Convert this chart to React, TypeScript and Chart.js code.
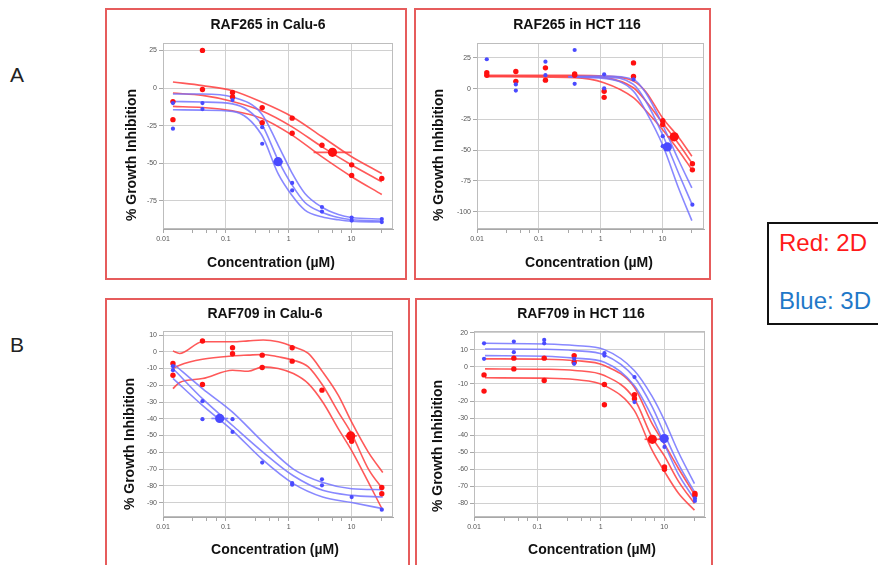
import React, { useEffect, useRef } from 'react';
import { Chart, registerables } from 'chart.js';
Chart.register(...registerables);

// ---------------- data ----------------
const DOSES = [0.0144, 0.0425, 0.128, 0.38, 1.14, 3.4, 10.1, 30.5];
const X_MAJOR = [0.01, 0.1, 1, 10];
const X_MINOR = [0.03, 0.05, 0.07, 0.3, 0.5, 0.7, 3, 5, 7, 30];

// A1: RAF265 in Calu-6
const A1_RED_REP1 = [-9, 25, -3, -13, -20, -38, -51, -60];
const A1_RED_REP2 = [-21, -1, -6, -23, -30, null, -58, null];
const A1_BLUE_REP1 = [-27, -10, -8, -26, -63, -79, -86, -87];
const A1_BLUE_REP2 = [-10, -14, null, -37, -68, -82, -88, -89];
const A1_RED_FIT_X = [0.0144, 0.0425, 0.128, 0.371, 1.12, 3.37, 10.1, 30.5];
const A1_RED_FIT_HI = [4, 1.6, -1.8, -9.3, -18.9, -32.2, -45.6, -56.7];
const A1_RED_FIT_MID = [-3.3, -4.9, -8.9, -15.1, -25.6, -38.9, -51.1, -62.2];
const A1_RED_FIT_LO = [-12.2, -12.9, -15.1, -20, -31.1, -45.6, -58.9, -70.7];
const A1_BLUE_FIT_X = [0.0144, 0.0425, 0.128, 0.371, 0.684, 1.12, 1.82, 3.37, 6.2, 10.1, 30.5];
const A1_BLUE_FIT_HI = [-4, -4, -6, -17, -38, -56, -70, -79, -84, -86, -87];
const A1_BLUE_FIT_MID = [-8.9, -9.3, -10.5, -24, -48, -64, -76, -82.5, -86, -87.5, -88.3];
const A1_BLUE_FIT_LO = [-14.4, -14.7, -15.5, -31, -57, -71, -81, -85.5, -87.5, -88.5, -89];
const A1_RED_IC50 = [5.0, -42.7];
const A1_RED_IC50_CI = [2.5, 10.1];
const A1_BLUE_IC50 = [0.68, -48.9];
const A1_BLUE_IC50_CI = [0.57, 0.82];
const A1_Y_TICKS = [25, 0, -25, -50, -75];

// A2: RAF265 in HCT 116
const A2_RED_REP1 = [13, 14, 17, 12, -2, 21, -26, -61];
const A2_RED_REP2 = [11, 6, 7, 11, -7, 10, -29, -66];
const A2_BLUE_REP1 = [24, 3.5, 22, 31.5, 11.7, 7.6, -38.6, -94.3];
const A2_BLUE_REP2 = [null, -1.5, 11, 4, 0.3, null, -46.7, null];
const A2_RED_FIT_X = [0.0144, 0.371, 1.13, 3.39, 5.37, 10, 18.6, 29.9];
const A2_RED_FIT_HI = [10.9, 10.9, 10.3, 6.2, -2.4, -23.6, -40, -54.9];
const A2_RED_FIT_MID = [10.3, 10.1, 9, 0.8, -10, -27.7, -45.4, -60.3];
const A2_RED_FIT_LO = [9.8, 9, 4.9, -7.3, -17.7, -33.1, -50.8, -65.8];
const A2_BLUE_FIT_X = [0.3, 1.13, 3.39, 5.37, 10, 18.6, 29.9];
const A2_BLUE_FIT_HI = [10, 10.3, 7.6, -3.3, -29.1, -59, -80.7];
const A2_BLUE_FIT_MID = [9.8, 9.5, 3.5, -10, -37.2, -69.8, -93.7];
const A2_BLUE_FIT_LO = [9.5, 8.4, -1.9, -18.2, -45.4, -82, -107.3];
const A2_RED_IC50 = [15.5, -39.1];
const A2_RED_IC50_CI = [12, 18.6];
const A2_BLUE_IC50 = [12, -47.3];
const A2_BLUE_IC50_CI = [11.1, 13];
const A2_Y_TICKS = [25, 0, -25, -50, -75, -100];

// B1: RAF709 in Calu-6
const B1_RED_REP1 = [-7, 6.4, 2.4, -2, 2.4, -22.9, -49.8, -81];
const B1_RED_REP2 = [-14, -19.5, -1.2, -9.4, -5.6, null, -53.4, -84.7];
const B1_BLUE_REP1 = [-8.6, -29.5, -40.2, -66.1, -78.3, -76.1, -86.7, -94.2];
const B1_BLUE_REP2 = [-11, -40.2, -47.8, null, -79.3, -79.7, null, null];
const B1_RED_FIT_X = [0.0144, 0.0184, 0.0425, 0.128, 0.227, 0.394, 0.684, 1.19, 2.06, 3.49, 6.2, 10.1, 18.7, 31.6];
const B1_RED_FIT_HI = [0.4, -1, 6, 6, 6.5, 7, 6, 3, -1, -12, -26, -42, -60, -72];
const B1_RED_FIT_MID = [-10, -8, -4.5, -2.5, -2, -1.6, -3, -5, -9, -20, -36, -49, -70, -82];
const B1_RED_FIT_LO = [-22, -18.3, -16, -11, -11.6, -9, -10, -13, -19, -30, -46, -59, -78, -94.6];
const B1_BLUE_FIT_X = [0.0144, 0.0425, 0.128, 0.394, 1.19, 3.49, 10.1, 31.6];
const B1_BLUE_FIT_HI = [-7, -22, -36, -54, -70, -78, -81.7, -82.3];
const B1_BLUE_FIT_MID = [-10, -28, -44, -60, -74, -82.7, -85.7, -86.7];
const B1_BLUE_FIT_LO = [-15.9, -32, -47, -64.7, -78.7, -86.7, -90, -93.6];
const B1_RED_IC50 = [9.75, -50.2];
const B1_RED_IC50_CI = [7.9, 12.2];
const B1_BLUE_IC50 = [0.08, -39.8];
const B1_BLUE_IC50_CI = [0.059, 0.109];
const B1_Y_TICKS = [10, 0, -10, -20, -30, -40, -50, -60, -70, -80, -90];

// B2: RAF709 in HCT 116
const B2_RED_REP1 = [-4.7, 5.1, 5.1, 6.6, -10.3, -16.3, -58.6, -74.1];
const B2_RED_REP2 = [-14.2, -1.2, -8, 2.7, -22.2, -18.7, -59.9, -75.1];
const B2_BLUE_REP1 = [13.8, 14.8, 15.8, 4.7, 8, -6, -42, -77];
const B2_BLUE_REP2 = [4.7, 8.6, 13.8, 1.8, 6.6, -20.6, -46.9, -78.5];
const B2_FIT_X = [0.0149, 0.134, 0.388, 1.14, 3.37, 6.38, 10, 16.8, 30];
const B2_BLUE_FIT_HI = [13.8, 13.4, 12.5, 10.1, -2.1, -17, -31, -50, -68.3];
const B2_BLUE_FIT_MID = [10.5, 10.3, 9.5, 7, -6, -23, -39, -57, -73.2];
const B2_BLUE_FIT_LO = [6.6, 6.2, 5.1, 2.7, -10.9, -29, -45, -63, -77.4];
const B2_RED_FIT_HI = [4.7, 4.5, 3.7, 0.8, -11.9, -33, -45, -59.5, -74.7];
const B2_RED_FIT_MID = [-1.2, -1.4, -2.1, -5.1, -18.7, -41, -52, -67, -80];
const B2_RED_FIT_LO = [-6.4, -6.6, -7.4, -10.9, -25.5, -48.5, -61, -74, -83.9];
const B2_RED_IC50 = [6.5, -42.4];
const B2_RED_IC50_CI = [4.9, 8.65];
const B2_BLUE_IC50 = [10, -42];
const B2_BLUE_IC50_CI = [8.2, 11.6];
const B2_Y_TICKS = [20, 10, 0, -10, -20, -30, -40, -50, -60, -70, -80];

// ---------------- styling / layout ----------------
const FONT = '"Liberation Sans", Arial, Helvetica, sans-serif';
const RED_PT = '#ff1010';
const BLUE_PT = '#4a4aff';
const RED_LINE = 'rgba(255,60,60,0.85)';
const BLUE_LINE = 'rgba(115,115,255,0.85)';
const BOX_RED = '#e65c5c';

const PANELS = [
  {
    title: 'RAF265 in Calu-6',
    box: [105, 8, 407, 280], plot: [163, 43, 393, 229],
    titlePos: [268, 25], yTitlePos: [132, 155], xTitlePos: [271, 263],
    xMax: 46, yMin: -93.6, yMax: 29.9, yTicks: A1_Y_TICKS,
    red: [A1_RED_REP1, A1_RED_REP2], blue: [A1_BLUE_REP1, A1_BLUE_REP2],
    redFitX: A1_RED_FIT_X, redFits: [A1_RED_FIT_HI, A1_RED_FIT_MID, A1_RED_FIT_LO],
    blueFitX: A1_BLUE_FIT_X, blueFits: [A1_BLUE_FIT_HI, A1_BLUE_FIT_MID, A1_BLUE_FIT_LO],
    redIC50: A1_RED_IC50, redCI: A1_RED_IC50_CI, blueIC50: A1_BLUE_IC50, blueCI: A1_BLUE_IC50_CI,
  },
  {
    title: 'RAF265 in HCT 116',
    box: [414, 8, 711, 280], plot: [477, 43, 704, 229],
    titlePos: [577, 25], yTitlePos: [439, 155], xTitlePos: [589, 263],
    xMax: 47, yMin: -114.1, yMax: 37.2, yTicks: A2_Y_TICKS,
    red: [A2_RED_REP1, A2_RED_REP2], blue: [A2_BLUE_REP1, A2_BLUE_REP2],
    redFitX: A2_RED_FIT_X, redFits: [A2_RED_FIT_HI, A2_RED_FIT_MID, A2_RED_FIT_LO],
    blueFitX: A2_BLUE_FIT_X, blueFits: [A2_BLUE_FIT_HI, A2_BLUE_FIT_MID, A2_BLUE_FIT_LO],
    redIC50: A2_RED_IC50, redCI: A2_RED_IC50_CI, blueIC50: A2_BLUE_IC50, blueCI: A2_BLUE_IC50_CI,
  },
  {
    title: 'RAF709 in Calu-6',
    box: [105, 298, 410, 580], plot: [163, 331, 393, 517],
    titlePos: [265, 314], yTitlePos: [130, 444], xTitlePos: [275, 550],
    xMax: 46, yMin: -98.6, yMax: 12.4, yTicks: B1_Y_TICKS,
    red: [B1_RED_REP1, B1_RED_REP2], blue: [B1_BLUE_REP1, B1_BLUE_REP2],
    redFitX: B1_RED_FIT_X, redFits: [B1_RED_FIT_HI, B1_RED_FIT_MID, B1_RED_FIT_LO],
    blueFitX: B1_BLUE_FIT_X, blueFits: [B1_BLUE_FIT_HI, B1_BLUE_FIT_MID, B1_BLUE_FIT_LO],
    redIC50: B1_RED_IC50, redCI: B1_RED_IC50_CI, blueIC50: B1_BLUE_IC50, blueCI: B1_BLUE_IC50_CI,
  },
  {
    title: 'RAF709 in HCT 116',
    box: [415, 298, 713, 580], plot: [474, 331, 705, 517],
    titlePos: [581, 314], yTitlePos: [438, 446], xTitlePos: [592, 550],
    xMax: 44, yMin: -87.9, yMax: 21, yTicks: B2_Y_TICKS,
    red: [B2_RED_REP1, B2_RED_REP2], blue: [B2_BLUE_REP1, B2_BLUE_REP2],
    redFitX: B2_FIT_X, redFits: [B2_RED_FIT_HI, B2_RED_FIT_MID, B2_RED_FIT_LO],
    blueFitX: B2_FIT_X, blueFits: [B2_BLUE_FIT_HI, B2_BLUE_FIT_MID, B2_BLUE_FIT_LO],
    redIC50: B2_RED_IC50, redCI: B2_RED_IC50_CI, blueIC50: B2_BLUE_IC50, blueCI: B2_BLUE_IC50_CI,
  },
];

const isMajor = (v: number) => X_MAJOR.some((m) => Math.abs(m - v) < m * 1e-6);

const decorPlugin = {
  id: 'panelDecor',
  beforeDatasetsDraw(chart: any) {
    const { ctx, chartArea: a } = chart;
    ctx.save();
    ctx.strokeStyle = '#bdbdbd';
    ctx.lineWidth = 1;
    ctx.strokeRect(Math.round(a.left) + 0.5, Math.round(a.top) + 0.5, Math.round(a.right - a.left) - 1, Math.round(a.bottom - a.top) - 1);
    ctx.restore();
  },
  afterDraw(chart: any, _a: any, opts: any) {
    const ctx = chart.ctx;
    ctx.save();
    ctx.fillStyle = '#111';
    ctx.font = 'bold 14px ' + FONT;
    ctx.textAlign = 'center';
    ctx.textBaseline = 'middle';
    ctx.fillText(opts.title, opts.titleX, opts.titleY);
    ctx.fillText('Concentration (\u00b5M)', opts.xTitleX, opts.xTitleY);
    ctx.translate(opts.yTitleX, opts.yTitleY);
    ctx.rotate(-Math.PI / 2);
    ctx.fillText('% Growth Inhibition', 0, 0);
    ctx.restore();
  },
};

function repPoints(reps: (number | null)[][]) {
  const out: { x: number; y: number }[] = [];
  reps.forEach((rep) => rep.forEach((y, i) => { if (y !== null) out.push({ x: DOSES[i], y }); }));
  return out;
}

function buildConfig(p: any) {
  const [bl, bt, br, bb] = p.box;
  const [pl, pt, pr, pb] = p.plot;
  const curve = (xs: number[], ys: number[], color: string) => ({
    data: xs.map((x, i) => ({ x, y: ys[i] })),
    showLine: true, pointRadius: 0, borderColor: color, borderWidth: 1.6,
    cubicInterpolationMode: 'monotone', fill: false, order: 3,
  });
  const datasets: any[] = [
    { data: repPoints(p.red), backgroundColor: RED_PT, borderColor: RED_PT, pointRadius: 2.7, pointBorderWidth: 0, order: 1 },
    { data: repPoints(p.blue), backgroundColor: BLUE_PT, borderColor: BLUE_PT, pointRadius: 2.1, pointBorderWidth: 0, order: 0 },
    { data: [{ x: p.redIC50[0], y: p.redIC50[1] }], backgroundColor: RED_PT, borderColor: RED_PT, pointRadius: 4.6, pointBorderWidth: 0, order: 1 },
    { data: [{ x: p.blueIC50[0], y: p.blueIC50[1] }], backgroundColor: BLUE_PT, borderColor: BLUE_PT, pointRadius: 4.6, pointBorderWidth: 0, order: 0 },
    { data: [{ x: p.redCI[0], y: p.redIC50[1] }, { x: p.redCI[1], y: p.redIC50[1] }], showLine: true, pointRadius: 0, borderColor: RED_LINE, borderWidth: 1.6, order: 2 },
    { data: [{ x: p.blueCI[0], y: p.blueIC50[1] }, { x: p.blueCI[1], y: p.blueIC50[1] }], showLine: true, pointRadius: 0, borderColor: BLUE_LINE, borderWidth: 1.6, order: 2 },
    ...p.blueFits.map((f: number[]) => curve(p.blueFitX, f, BLUE_LINE)),
    ...p.redFits.map((f: number[]) => curve(p.redFitX, f, RED_LINE)),
  ];
  const yAxisW = pl - bl;
  const xAxisH = bb - pb;
  return {
    type: 'scatter',
    data: { datasets },
    options: {
      responsive: false,
      animation: false,
      events: [],
      layout: { padding: { left: 0, top: pt - bt, right: br - pr, bottom: 0 } },
      plugins: {
        legend: { display: false },
        tooltip: { enabled: false },
        panelDecor: {
          title: p.title,
          titleX: p.titlePos[0] - bl, titleY: p.titlePos[1] - bt,
          xTitleX: p.xTitlePos[0] - bl, xTitleY: p.xTitlePos[1] - bt,
          yTitleX: p.yTitlePos[0] - bl, yTitleY: p.yTitlePos[1] - bt,
        },
      },
      scales: {
        x: {
          type: 'logarithmic',
          min: 0.01,
          max: p.xMax,
          afterBuildTicks: (s: any) => { s.ticks = [...X_MAJOR, ...X_MINOR].sort((a, b) => a - b).map((v) => ({ value: v })); },
          afterFit: (s: any) => { s.height = xAxisH; },
          ticks: {
            autoSkip: false, maxRotation: 0, padding: 2,
            font: { family: FONT, size: 7 }, color: '#555',
            callback: (v: any) => (isMajor(Number(v)) ? String(Number(v)) : ''),
          },
          grid: {
            color: (c: any) => (c.tick && isMajor(c.tick.value) ? '#d0d0d0' : 'rgba(0,0,0,0)'),
            tickColor: '#a8a8a8', tickLength: 4,
          },
          border: { color: '#a8a8a8' },
        },
        y: {
          type: 'linear',
          min: p.yMin,
          max: p.yMax,
          afterBuildTicks: (s: any) => { s.ticks = p.yTicks.map((v: number) => ({ value: v })); },
          afterFit: (s: any) => { s.width = yAxisW; },
          ticks: { padding: 2, font: { family: FONT, size: 7 }, color: '#555', callback: (v: any) => String(v) },
          grid: { color: '#d0d0d0', tickColor: '#a8a8a8', tickLength: 4 },
          border: { color: '#a8a8a8' },
        },
      },
    },
    plugins: [decorPlugin],
  };
}

function Panel({ p }: { p: any }) {
  const ref = useRef<HTMLCanvasElement>(null);
  const [bl, bt, br, bb] = p.box;
  const w = br - bl, h = bb - bt;
  useEffect(() => {
    const chart = new Chart(ref.current as HTMLCanvasElement, buildConfig(p) as any);
    return () => chart.destroy();
  }, []);
  return (
    <>
      <div style={{ position: 'absolute', left: bl, top: bt, width: w, height: h, border: `2px solid ${BOX_RED}`, boxSizing: 'border-box' }} />
      <canvas ref={ref} width={w} height={h} style={{ position: 'absolute', left: bl, top: bt, width: w, height: h }} />
    </>
  );
}

export default function App() {
  return (
    <div style={{ position: 'fixed', left: 0, top: 0, width: 878, height: 565, overflow: 'hidden', background: '#fff', fontFamily: FONT }}>
      <div style={{ position: 'absolute', left: 10, top: 64, fontSize: 21, lineHeight: '21px', color: '#222' }}>A</div>
      <div style={{ position: 'absolute', left: 10, top: 334, fontSize: 21, lineHeight: '21px', color: '#222' }}>B</div>
      {PANELS.map((p, i) => <Panel key={i} p={p} />)}
      <div style={{ position: 'absolute', left: 767, top: 222, width: 130, height: 103, border: '2.5px solid #111', boxSizing: 'border-box' }} />
      <div style={{ position: 'absolute', left: 779, top: 231, fontSize: 24, lineHeight: '24px', color: '#ff1a1a' }}>Red: 2D</div>
      <div style={{ position: 'absolute', left: 779, top: 289, fontSize: 24, lineHeight: '24px', color: '#1f78c8' }}>Blue: 3D</div>
    </div>
  );
}
